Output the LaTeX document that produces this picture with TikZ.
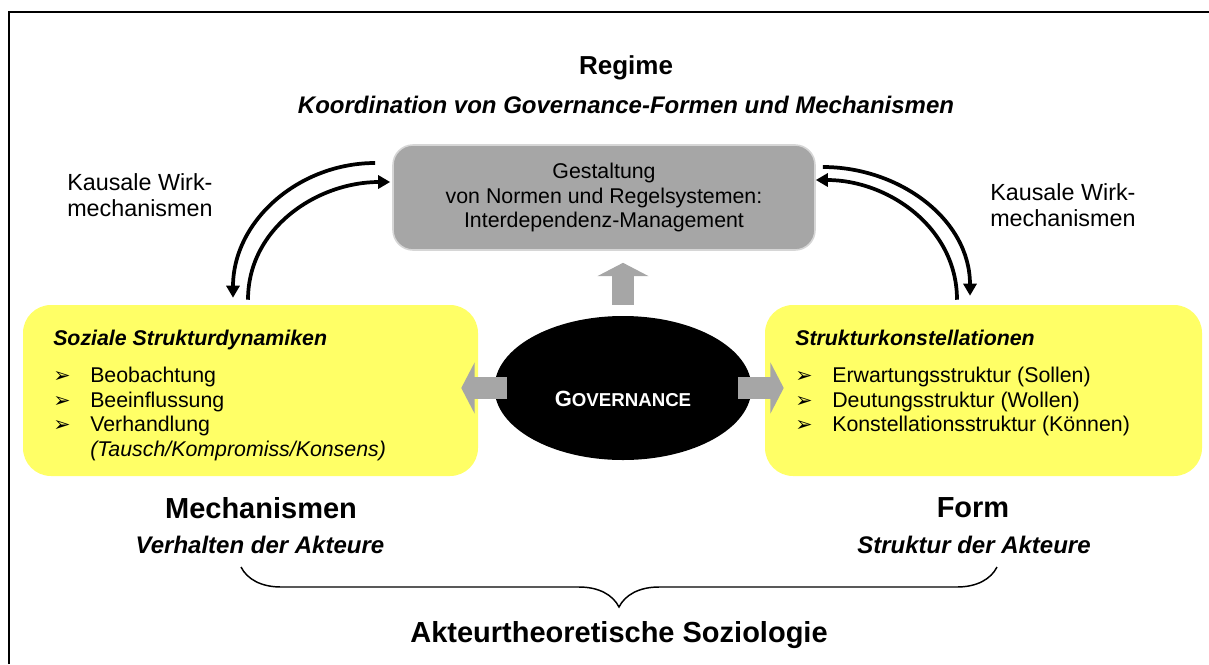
\documentclass[tikz,border=0pt]{standalone}
\usepackage{fontspec}
\setmainfont{Liberation Sans}
\newfontfamily\dejavu{DejaVu Sans}
\usepackage{tikz}
\usetikzlibrary{positioning,calc,shapes,arrows.meta,decorations.pathreplacing}

\definecolor{boxgelb}{RGB}{255,255,102}
\definecolor{boxgrau}{RGB}{166,166,166}
\definecolor{randgrau}{RGB}{214,214,214}

\newcommand{\spitze}{\makebox[27.75pt][l]{\dejavu\fontsize{15.5}{15.5}\selectfont ➢}}

\begin{document}
\begin{tikzpicture}[x=0.75pt, y=-0.75pt,
            every node/.style={inner sep=0pt},
            gelbbox/.style={rectangle, rounded corners=21pt, fill=boxgelb, minimum height=128.25pt},
            graubox/.style={rectangle, rounded corners=15pt, fill=boxgrau, draw=randgrau, line width=1.2pt,
                minimum width=316.5pt, minimum height=78.75pt},
            wirkpfeil/.style={line width=2.8pt, -{Triangle[length=9pt,width=9.75pt]}},
            blockpfeil/.style={boxgrau, line width=17pt, -{Triangle[length=10pt,width=38pt]}},
            titel/.style={font=\bfseries\fontsize{21.75}{26}\selectfont},
            untertitel/.style={font=\bfseries\itshape\fontsize{18}{22}\selectfont},
            liste/.style={anchor=north west, align=left, font=\fontsize{16}{18.5}\selectfont},
            wirktext/.style={anchor=west, align=left, font=\fontsize{17.5}{19.5}\selectfont}
        ]
            \useasboundingbox (0,0) rectangle (1209,664);
            \draw[line width=1.5pt] (9,664) -- (9,12) -- (1209,12);

            \node[font=\bfseries\fontsize{19.5}{23}\selectfont] (regime) at (626,68) {Regime};
            \node[untertitel] (koord) at (626,105) {Koordination von Governance-Formen und Mechanismen};

            \node[graubox, align=center, font=\fontsize{16}{18.4}\selectfont] (gestaltung) at (604,197.5)
                {Gestaltung\\von Normen und Regelsystemen:\\Interdependenz-Management};
            \node[wirktext] (kausalL) at (67,195) {Kausale Wirk-\\mechanismen};
            \node[wirktext] (kausalR) at (990,205) {Kausale Wirk-\\mechanismen};

            \node[gelbbox, minimum width=341.25pt] (soziale) at (250.5,390.5) {};
            \node[gelbbox, minimum width=327.75pt] (struktur) at (983.5,390.5) {};
            \node[liste] (sozliste) at (53,330) {\textbf{\textit{Soziale Strukturdynamiken}}\\[9pt]
                \spitze Beobachtung\\
                \spitze Beeinflussung\\
                \spitze Verhandlung\\
                \hspace*{27.75pt}\textit{(Tausch/Kompromiss/Konsens)}};
            \node[liste] (strliste) at (795,330) {\textbf{\textit{Strukturkonstellationen}}\\[9pt]
                \spitze Erwartungsstruktur (Sollen)\\
                \spitze Deutungsstruktur (Wollen)\\
                \spitze Konstellationsstruktur (Können)};

            \node[ellipse, fill=black, minimum width=192.75pt, minimum height=108pt] (governance) at (623,388) {};

            \path[wirkpfeil]
                ([shift={(-17,-34.5)}]gestaltung.west) edge[out=180, in=90] ([shift={(-17.5,-7)}]soziale.north)
                ([shift={(-2.5,-5)}]soziale.north) edge[out=90, in=180] ([shift={(-2,-15.5)}]gestaltung.west)
                ([shift={(7,-30.5)}]gestaltung.east) edge[out=0, in=90] ([shift={(-13.5,-9)}]struktur.north)
                ([shift={(-26.5,-5)}]struktur.north) edge[out=90, in=0] ([shift={(0,-17.5)}]gestaltung.east);

            \draw[blockpfeil, shorten <=8.25pt, shorten >=9pt] (governance.north) -- (governance.north |- gestaltung.south);
            \draw[blockpfeil, shorten <=-9.75pt, shorten >=-12.75pt] (governance.west) -- (governance.west -| soziale.east);
            \draw[blockpfeil, shorten <=-10.5pt, shorten >=-14.25pt] (governance.east) -- (governance.east -| struktur.west);
            \node[text=white, font=\bfseries\fontsize{16.5}{20}\selectfont] (govtext) at (623,399)
                {G{\fontsize{14}{16}\selectfont OVERNANCE}};

            \node[titel] (mech) at (261,508) {Mechanismen};
            \node[untertitel] (mechsub) at (260,545) {Verhalten der Akteure};
            \node[titel] (form) at (973,508) {Form};
            \node[untertitel] (formsub) at (974,545) {Struktur der Akteure};
            \coordinate (klammerL) at (241,567);
            \coordinate (klammerR) at (997,567);
            \draw[line width=1.1pt, decorate, decoration={brace, mirror, amplitude=30pt}] (klammerL) -- (klammerR);
            \node[titel] (soziologie) at (619,635) {Akteurtheoretische Soziologie};
\end{tikzpicture}
\end{document}
